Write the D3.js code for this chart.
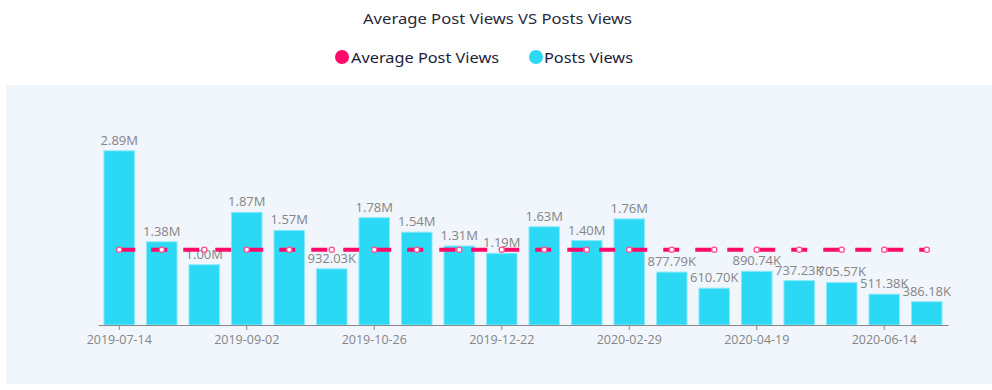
<!DOCTYPE html>
<html><head><meta charset="utf-8">
<script src="https://cdn.jsdelivr.net/npm/d3@7"></script>
<style>
html,body{margin:0;padding:0;background:#fff;}
svg{display:block;}
</style></head>
<body>
<svg id="chart" width="992" height="390"></svg>
<script>
const categories = ["2019-07-14","2019-07-28","2019-08-11","2019-09-02","2019-09-15","2019-09-29","2019-10-26","2019-11-09","2019-11-23","2019-12-22","2020-01-05","2020-01-19","2020-02-29","2020-03-14","2020-03-28","2020-04-19","2020-05-03","2020-05-17","2020-06-14","2020-06-28"];
const postsViews = [2890000,1380000,1000000,1870000,1570000,932030,1780000,1540000,1310000,1190000,1630000,1400000,1760000,877790,610700,890740,737230,705570,511380,386180];
const avgViews = [1248600,1248600,1248600,1248600,1248600,1248600,1248600,1248600,1248600,1248600,1248600,1248600,1248600,1248600,1248600,1248600,1248600,1248600,1248600,1248600];
const shownTicks = [0,3,6,9,12,15,18];
const seriesNames = ["Average Post Views","Posts Views"];
const colors = ["#ff0a68","#2bd9f5"];

const svg = d3.select("#chart");
svg.append("rect").attr("x",6).attr("y",85).attr("width",986).attr("height",299).attr("fill","#f1f5fc");

svg.append("text").attr("x",363).attr("y",23.5)
  .attr("font-family","'Noto Sans', Lato, sans-serif").attr("font-size",15).attr("fill","#2a2a3a")
  .attr("textLength",269).attr("lengthAdjust","spacingAndGlyphs")
  .text("Average Post Views VS Posts Views");

// legend
const lg = [{x:342,tx:351,w:148},{x:536,tx:544,w:89}];
seriesNames.forEach((n,i)=>{
  svg.append("circle").attr("cx",lg[i].x).attr("cy",57).attr("r",7).attr("fill",colors[i]);
  svg.append("text").attr("x",lg[i].tx).attr("y",62.5).attr("font-family","'Noto Sans', Lato, sans-serif")
    .attr("font-size",15).attr("fill","#1c1c3a")
    .attr("textLength",lg[i].w).attr("lengthAdjust","spacingAndGlyphs").text(n);
});

const x = d3.scaleBand().domain(categories).range([98,948]).paddingInner(0.28).paddingOuter(0.14);
const y = d3.scaleLinear().domain([0,3500000]).range([325,114]);

const g = svg.append("g");
g.selectAll("rect.bar").data(postsViews).join("rect").attr("class","bar")
  .attr("x",(d,i)=>x(categories[i])).attr("width",x.bandwidth())
  .attr("y",d=>y(d)).attr("height",d=>y(0)-y(d))
  .attr("fill",colors[1]).attr("stroke","#8ee9fa").attr("stroke-width",1);

const fmt = v => v>=1e6 ? (v/1e6).toFixed(2)+"M" : (v/1e3).toFixed(2)+"K";
g.selectAll("text.lbl").data(postsViews).join("text").attr("class","lbl")
  .attr("x",(d,i)=>x(categories[i])+x.bandwidth()/2).attr("y",d=>y(d)-6)
  .attr("text-anchor","middle").attr("font-family","'Open Sans', 'Noto Sans', sans-serif")
  .attr("font-size",13).attr("fill","#858585").text(fmt);

// axis
const axis = d3.axisBottom(x).tickValues(shownTicks.map(i=>categories[i])).tickSize(5).tickSizeOuter(0);
const ag = svg.append("g").attr("transform","translate(0,325)").call(axis);
ag.select(".domain").attr("stroke","#888").attr("stroke-width",1.2);
ag.selectAll(".tick line").attr("stroke","#888");
ag.selectAll(".tick text").attr("font-family","'Open Sans', 'Noto Sans', sans-serif").attr("font-size",12.5).attr("fill","#858585").attr("dy","0.9em");

// avg line
const cx = i => x(categories[i]) + x.bandwidth()/2;
const line = d3.line().x((d,i)=>cx(i)).y(d=>y(d));
svg.append("path").datum(avgViews).attr("d",line).attr("fill","none")
  .attr("stroke",colors[0]).attr("stroke-width",4).attr("stroke-dasharray","16,16");
svg.selectAll("circle.pt").data(avgViews).join("circle").attr("class","pt")
  .attr("cx",(d,i)=>cx(i)).attr("cy",d=>y(d)).attr("r",2.6)
  .attr("fill","#fff").attr("stroke","#ff4f8f").attr("stroke-width",1.3);
</script>
</body></html>
